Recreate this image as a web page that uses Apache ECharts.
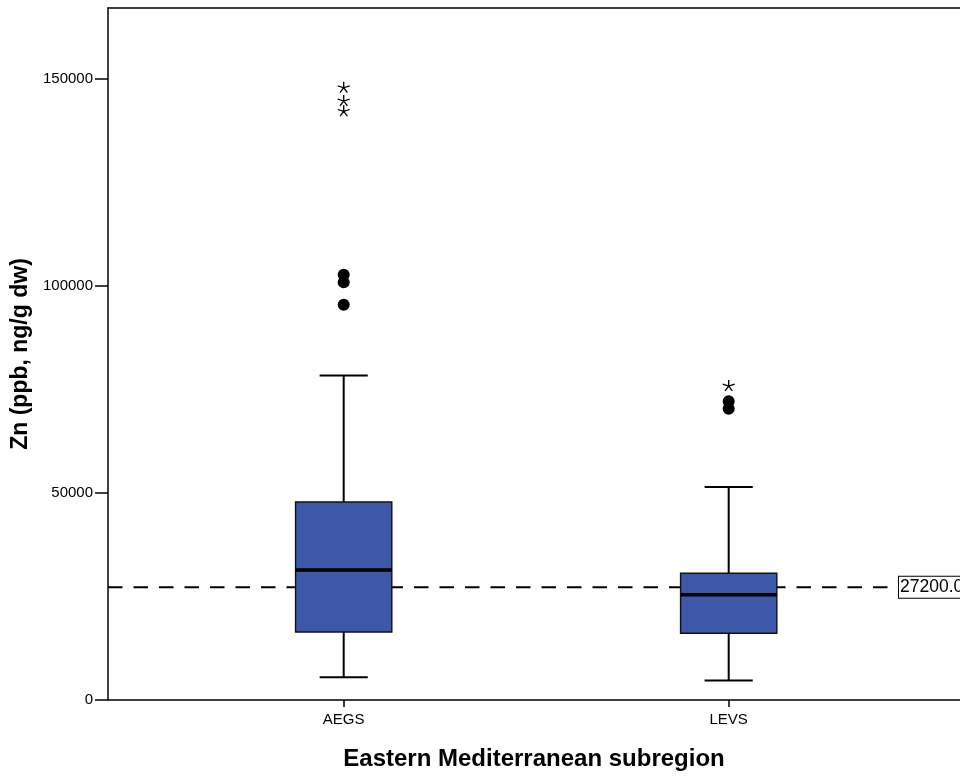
<!DOCTYPE html>
<html>
<head>
<meta charset="utf-8">
<script src="https://cdn.jsdelivr.net/npm/echarts@6/dist/echarts.min.js"></script>
<style>
html,body{margin:0;padding:0;background:#fff;}
#chart{width:960px;height:776px;}
</style>
</head>
<body>
<div id="chart"></div>
<script>
// ---- data ----
var categories = ['AEGS', 'LEVS'];
var whiskerLow = [5500, 4700];
var q1 = [16400, 16100];
var median = [31400, 25400];
var q3 = [47800, 30600];
var whiskerHigh = [78300, 51400];
var outlierAEGS = [95400, 100800, 102600];
var outlierLEVS = [70300, 72100];
var extremeAEGS = [142200, 144700, 147900];
var extremeLEVS = [75900];
var refValue = 27200;
var yTicks = [0, 50000, 100000, 150000];

// ---- build ----
var boxData = categories.map(function (c, i) {
  return [i, whiskerLow[i], q1[i], median[i], q3[i], whiskerHigh[i]];
});
var circles = [];
outlierAEGS.forEach(function (v) { circles.push([0, v]); });
outlierLEVS.forEach(function (v) { circles.push([1, v]); });
var stars = [];
extremeAEGS.forEach(function (v) { stars.push([0, v]); });
extremeLEVS.forEach(function (v) { stars.push([1, v]); });

var FONT = '"Liberation Sans", Arial, sans-serif';
var starPath = 'path://M0 -1 L0 0 M0.951 -0.309 L0 0 M0.588 0.809 L0 0 M-0.588 0.809 L0 0 M-0.951 -0.309 L0 0';

var xMin = -0.6122, xMax = 1.6008, refEnd = 1.4345;

var chart = echarts.init(document.getElementById('chart'), null, {renderer: 'canvas'});
chart.setOption({
  animation: false,
  backgroundColor: '#fff',
  grid: {left: 108, top: 8, right: 0, bottom: 75},
  xAxis: [{
    type: 'value', min: xMin, max: xMax,
    name: 'Eastern Mediterranean subregion', nameLocation: 'middle', nameGap: 47,
    nameTextStyle: {fontFamily: FONT, fontSize: 24, fontWeight: 'bold', color: '#000'},
    axisLine: {show: true, onZero: false, lineStyle: {color: '#000', width: 1.5}},
    axisTick: {show: true, length: 7, lineStyle: {color: '#000', width: 1.5}, customValues: [0, 1]},
    axisLabel: {show: true, customValues: [0, 1], margin: 12, fontFamily: FONT, fontSize: 15, color: '#000',
      formatter: function (v) { return categories[Math.round(v)]; }},
    splitLine: {show: false}
  }, {
    type: 'value', position: 'top', min: xMin, max: xMax,
    axisLine: {show: true, onZero: false, lineStyle: {color: '#000', width: 1.5}},
    axisTick: {show: false}, axisLabel: {show: false}, splitLine: {show: false}
  }],
  yAxis: {
    type: 'value', min: 0, max: 167000,
    name: 'Zn (ppb, ng/g dw)', nameLocation: 'middle', nameGap: 68,
    nameTextStyle: {fontFamily: FONT, fontSize: 23, fontWeight: 'bold', color: '#000'},
    axisLine: {show: true, onZero: false, lineStyle: {color: '#000', width: 1.5}},
    axisTick: {show: true, length: 13, lineStyle: {color: '#000', width: 1.5}, customValues: yTicks},
    axisLabel: {show: true, customValues: yTicks, margin: 15, fontFamily: FONT, fontSize: 15, color: '#000',
      formatter: function (v) { return String(v); }},
    splitLine: {show: false}
  },
  series: [
    {
      type: 'line',
      data: [[xMin, refValue], [refEnd, refValue]],
      symbol: 'none',
      lineStyle: {color: '#000', width: 2, type: [14.5, 11]},
      endLabel: {show: true, formatter: '27200.0', distance: 3, fontFamily: FONT, fontSize: 17.5, color: '#000',
        backgroundColor: '#fff', borderColor: '#000', borderWidth: 1, padding: [2, 1, 1, 1]},
      z: 1
    },
    {
      type: 'custom',
      data: boxData,
      z: 3,
      renderItem: function (params, api) {
        var x = api.value(0);
        var pLo = api.coord([x, api.value(1)]);
        var pQ1 = api.coord([x, api.value(2)]);
        var pMed = api.coord([x, api.value(3)]);
        var pQ3 = api.coord([x, api.value(4)]);
        var pHi = api.coord([x, api.value(5)]);
        var band = api.size([1, 0])[0];
        var bh = band * 0.125;
        var ch = bh / 2;
        var cx = pQ1[0];
        var ls = {stroke: '#000', lineWidth: 2};
        return {
          type: 'group',
          children: [
            {type: 'line', shape: {x1: cx, y1: pQ3[1], x2: cx, y2: pHi[1]}, style: ls},
            {type: 'line', shape: {x1: cx, y1: pQ1[1], x2: cx, y2: pLo[1]}, style: ls},
            {type: 'line', shape: {x1: cx - ch, y1: pHi[1], x2: cx + ch, y2: pHi[1]}, style: ls},
            {type: 'line', shape: {x1: cx - ch, y1: pLo[1], x2: cx + ch, y2: pLo[1]}, style: ls},
            {type: 'rect', shape: {x: cx - bh, y: pQ3[1], width: 2 * bh, height: pQ1[1] - pQ3[1]},
              style: {fill: '#3d58a9', stroke: '#111', lineWidth: 1.4}},
            {type: 'line', shape: {x1: cx - bh, y1: pMed[1], x2: cx + bh, y2: pMed[1]}, style: {stroke: '#000', lineWidth: 3.5}}
          ]
        };
      }
    },
    {
      type: 'scatter', data: circles, symbol: 'circle', symbolSize: 12,
      itemStyle: {color: '#000', opacity: 1}, z: 4
    },
    {
      type: 'scatter', data: stars, symbol: starPath, symbolSize: [12, 11],
      itemStyle: {color: 'rgba(0,0,0,0)', borderColor: '#000', borderWidth: 1.3, opacity: 1}, z: 4
    }
  ]
});
</script>
</body>
</html>
